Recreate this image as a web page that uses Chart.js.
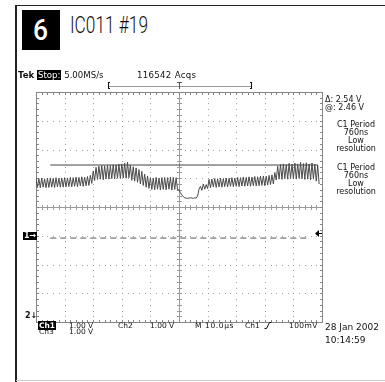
<!DOCTYPE html>
<html><head><meta charset="utf-8">
<script src="https://cdn.jsdelivr.net/npm/chart.js@4"></script>
<style>
html,body{margin:0;padding:0;background:#fff;}
#wrap{position:relative;width:385px;height:382px;overflow:hidden;background:#fff;}
canvas{position:absolute;left:0;top:0;}
.t{position:absolute;font-family:"DejaVu Sans",sans-serif;font-size:8px;line-height:8px;color:#111;white-space:nowrap;}
.t9{font-size:9px;line-height:9px;}
.h85{font-size:8.6px;line-height:8px;}
.b7{font-size:7.5px;line-height:7px;}
.inv{background:#000;color:#fff;padding:0 1px;}
.c{text-align:center;width:60px;}
.ttl{position:absolute;font-family:Roboto,'DejaVu Sans Condensed',sans-serif;color:#111;white-space:nowrap;transform-origin:0 0;}
</style></head>
<body>
<div id="wrap">
  <div style="position:absolute;left:15px;top:5px;width:2px;height:377px;background:#222"></div>
  <div style="position:absolute;left:15px;top:5px;width:370px;height:1px;background:#222"></div>
  <div style="position:absolute;left:16px;top:380px;width:369px;height:1px;background:#ccc"></div>
  <div style="position:absolute;left:22px;top:10px;width:38px;height:40px;background:#000;"></div>
  <div class="ttl" id="six" style="left:33px;top:16px;color:#fff;font-weight:500;font-size:29px;line-height:29px;">6</div>
  <div class="ttl" id="title" style="left:70px;top:13px;font-weight:300;font-size:24px;line-height:24px;">IC011 #19</div>
  <canvas id="c" width="385" height="382"></canvas>
  <div class="t h85" style="left:18px;top:71px;"><b>Tek</b> <span class="inv">Stop:</span> 5.00MS/s</div>
  <div class="t h85" style="left:137px;top:71px;letter-spacing:0.3px;">116542 Acqs</div>
  <div class="t" style="left:325px;top:96px;">&#916;: 2.54 V</div>
  <div class="t" style="left:325px;top:104px;">@: 2.46 V</div>
  <div class="t c" style="left:326px;top:121px;">C1 Period</div>
  <div class="t c" style="left:326px;top:129px;">760ns</div>
  <div class="t c" style="left:326px;top:137px;">Low</div>
  <div class="t c" style="left:326px;top:145px;">resolution</div>
  <div class="t c" style="left:326px;top:164px;">C1 Period</div>
  <div class="t c" style="left:326px;top:172px;">760ns</div>
  <div class="t c" style="left:326px;top:180px;">Low</div>
  <div class="t c" style="left:326px;top:188px;">resolution</div>
  <div class="t inv" style="left:23px;top:232px;font-weight:bold;">1&#8594;</div>
  <div class="t" style="left:25px;top:312px;font-weight:bold;">2&#8595;</div>
  <div class="t b7" style="left:38px;top:322px;"><span class="inv"><b>Ch1</b></span></div>
  <div class="t b7" style="left:69px;top:322px;">1.00 V</div>
  <div class="t b7" style="left:118px;top:322px;">Ch2</div>
  <div class="t b7" style="left:150px;top:322px;">1.00 V</div>
  <div class="t b7" style="left:195px;top:322px;letter-spacing:0.6px;">M 10.0&#181;s</div>
  <div class="t b7" style="left:245px;top:322px;">Ch1</div>
  <svg style="position:absolute;left:264px;top:322px;" width="8" height="7"><path d="M0.5 6.5 H2.5 L5.5 0.5 H7.5" stroke="#111" fill="none" stroke-width="1"/></svg>
  <div class="t b7" style="left:289px;top:322px;letter-spacing:0.4px;">100mV</div>
  <div class="t b7" style="left:39px;top:328px;">Ch3</div>
  <div class="t b7" style="left:69px;top:328px;">1.00 V</div>
  <div class="t t9" style="left:325px;top:323px;">28 Jan 2002</div>
  <div class="t t9" style="left:325px;top:336px;">10:14:59</div>
</div>
<script>
// fit condensed header glyphs to the reference widths
(function(){
  const fit = (id, w) => { const el = document.getElementById(id); const cw = el.getBoundingClientRect().width; if (cw > 0) el.style.transform = 'scaleX(' + (w/cw) + ')'; };
  fit('title', 78);
  fit('six', 15);
})();

// ---- data (µs on x, volts on y; Ch1 ground = 0 V) ----
const sampleStart = -50;   // µs, first sample of record
const sampleStep = 0.5;    // µs between samples
const ch1Trace = [
  2.00,1.68,1.99,1.67,2.01,1.69,1.98,1.67,2.00,1.68,
  2.01,1.69,1.99,1.68,2.02,1.70,2.00,1.69,2.01,1.69,
  2.02,1.70,2.01,1.71,2.03,1.70,2.02,1.72,2.04,1.71,
  2.03,1.73,2.05,1.72,2.04,1.74,2.06,1.75,2.10,1.82,
  2.25,1.92,2.38,1.96,2.42,1.97,2.44,1.95,2.43,1.98,
  2.45,1.97,2.44,1.99,2.47,1.98,2.46,2.00,2.49,1.99,
  2.50,2.01,2.53,2.00,2.56,2.02,2.45,1.93,2.40,1.90,
  2.36,1.86,2.30,1.80,2.24,1.75,2.14,1.69,2.08,1.65,
  2.02,1.61,2.01,1.60,2.03,1.62,2.01,1.59,2.02,1.61,
  2.03,1.60,2.02,1.62,2.04,1.59,2.03,1.61,2.02,1.60,
  1.60,1.50,1.42,1.36,1.32,1.31,1.30,1.31,1.32,1.31,
  1.30,1.32,1.31,1.38,1.62,1.72,1.58,1.80,1.62,1.78,
  1.64,1.96,1.67,1.97,1.70,1.99,1.68,1.98,1.70,2.00,
  1.69,1.99,1.71,2.01,1.70,2.00,1.72,2.02,1.71,2.01,
  1.72,2.03,1.71,2.02,1.73,2.04,1.72,2.03,1.73,2.05,
  1.72,2.04,1.74,2.06,1.73,2.05,1.74,2.07,1.75,2.08,
  1.74,2.07,1.76,2.10,1.78,2.12,1.80,2.20,1.94,2.42,
  1.97,2.48,1.96,2.50,1.98,2.47,1.97,2.52,1.99,2.49,
  1.98,2.53,1.97,2.50,2.00,2.55,1.98,2.51,1.96,2.54,
  1.97,2.50,1.95,2.53,1.98,2.48,1.90,2.45,1.80
];
const cursorLevels = [2.46, -0.08];      // V (Δ 2.54 V, @ 2.46 V)
const cursorSolidSpan = [-45, 48.6];     // µs
const cursorDashSpan = [-45, 45];        // µs
const triggerLevel = 0.1;                // V (100 mV)
const recordWindow = [-25, 25];          // µs bracket
const triggerPos = 0;                    // µs
const xDivs = [-50,-40,-30,-20,-10,0,10,20,30,40,50];
const yDivs = [-3,-2,-1,0,1,2,3,4,5];
const minorPerDiv = 5;

const tracePts = ch1Trace.map((v,i)=>({x: sampleStart + i*sampleStep, y: v}));

const tekGrid = {
  id:'tekGrid',
  beforeDatasetsDraw(chart){
    const {ctx, scales:{x, y}} = chart;
    const X = v => Math.round(x.getPixelForValue(v));
    const Y = v => Math.round(y.getPixelForValue(v));
    const x0 = xDivs[0], x1 = xDivs[xDivs.length-1];
    const y0 = yDivs[0], y1 = yDivs[yDivs.length-1];
    const dxm = (xDivs[1]-xDivs[0])/minorPerDiv, dym = (yDivs[1]-yDivs[0])/minorPerDiv;
    const xc = (x0+x1)/2, yc = (y0+y1)/2;
    const L=X(x0), R=X(x1), T=Y(y1), B=Y(y0), CX=X(xc), CY=Y(yc);
    ctx.save();
    ctx.fillStyle = '#a0a0a0';
    xDivs.forEach(v=>{
      if (v===x0||v===x1||v===xc) return;
      const px = X(v);
      for (let w=y0; w<=y1+1e-9; w+=dym) ctx.fillRect(px, Y(w), 1, 1);
    });
    yDivs.forEach(v=>{
      if (v===y0||v===y1||v===yc) return;
      const py = Y(v);
      for (let w=x0; w<=x1+1e-9; w+=dxm) ctx.fillRect(X(w), py, 1, 1);
    });
    ctx.fillStyle = '#9a9a9a';
    ctx.fillRect(CX, T, 1, B-T+1);
    ctx.fillRect(L, CY, R-L+1, 1);
    for (let w=y0; w<=y1+1e-9; w+=dym) ctx.fillRect(CX-2, Y(w), 5, 1);
    for (let w=x0; w<=x1+1e-9; w+=dxm) ctx.fillRect(X(w), CY-2, 1, 5);
    ctx.fillStyle = '#858585';
    ctx.fillRect(L, T, R-L+1, 1);
    ctx.fillRect(L, B, R-L+1, 1);
    ctx.fillRect(L, T, 1, B-T+1);
    ctx.fillRect(R, T, 1, B-T+1);
    for (let w=y0; w<=y1+1e-9; w+=dym){ const py=Y(w); ctx.fillRect(L, py, 3, 1); ctx.fillRect(R-2, py, 3, 1); }
    for (let w=x0; w<=x1+1e-9; w+=dxm){ const px=X(w); ctx.fillRect(px, T, 1, 3); ctx.fillRect(px, B-2, 1, 3); }
    ctx.restore();
  },
  afterDraw(chart){
    const {ctx, scales:{x, y}} = chart;
    const X = v => Math.round(x.getPixelForValue(v));
    const T = Math.round(y.getPixelForValue(yDivs[yDivs.length-1]));
    const by = T - 6;
    const a = X(recordWindow[0]), b = X(recordWindow[1]), t = X(triggerPos);
    ctx.save();
    ctx.fillStyle = '#9a9a9a';
    ctx.fillRect(a, by, b-a, 1);
    ctx.fillStyle = '#111';
    ctx.fillRect(a, by-4, 1, 7); ctx.fillRect(a, by-4, 2, 1); ctx.fillRect(a, by+2, 2, 1);
    ctx.fillRect(b, by-4, 1, 7); ctx.fillRect(b-1, by-4, 2, 1); ctx.fillRect(b-1, by+2, 2, 1);
    ctx.fillStyle = '#555';
    ctx.fillRect(t-2, by-4, 5, 1); ctx.fillRect(t, by-4, 1, 7);
    const R = X(xDivs[xDivs.length-1]);
    const ty = Math.round(y.getPixelForValue(triggerLevel));
    ctx.fillStyle = '#000';
    ctx.beginPath();
    ctx.moveTo(R-7, ty+0.5); ctx.lineTo(R-3, ty-3); ctx.lineTo(R-3, ty+4); ctx.closePath(); ctx.fill();
    ctx.fillRect(R-3, ty, 3, 1);
    ctx.restore();
  }
};

new Chart(document.getElementById('c'), {
  type: 'line',
  data: {
    datasets: [
      { data: tracePts, borderColor: '#4a4a4a', borderWidth: 1, pointRadius: 0, tension: 0 },
      { data: cursorSolidSpan.map(v=>({x:v, y:cursorLevels[0]})), borderColor: '#444', borderWidth: 1, pointRadius: 0 },
      { data: cursorDashSpan.map(v=>({x:v, y:cursorLevels[1]})), borderColor: '#555', borderWidth: 1, borderDash: [6,4], pointRadius: 0 }
    ]
  },
  options: {
    responsive: false,
    animation: false,
    events: [],
    layout: { padding: { left: 36, top: 92, right: 63, bottom: 60 } },
    plugins: { legend: { display: false }, tooltip: { enabled: false } },
    scales: {
      x: { type: 'linear', min: xDivs[0], max: xDivs[xDivs.length-1], display: false },
      y: { type: 'linear', min: yDivs[0], max: yDivs[yDivs.length-1], display: false }
    }
  },
  plugins: [tekGrid]
});
</script>
</body></html>
